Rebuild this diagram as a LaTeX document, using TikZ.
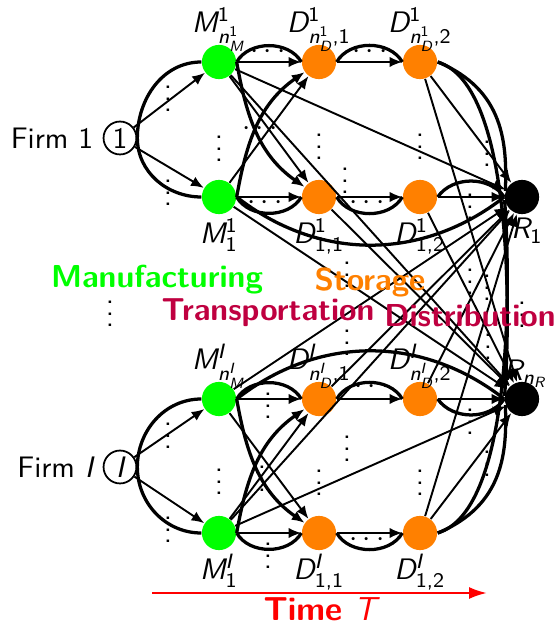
\documentclass[tikz,border=0pt]{standalone}
\usepackage{tikz}
\usetikzlibrary{arrows.meta}
\renewcommand{\familydefault}{\sfdefault}
\SetSymbolFont{operators}{normal}{TU}{lmss}{m}{n}
\SetSymbolFont{letters}{normal}{TU}{lmss}{m}{it}
\AtBeginDocument{\mathcode`\,="602C}
\colorlet{manuColor}{green}
\colorlet{storColor}{orange}
\colorlet{tranColor}{purple}
\colorlet{timeColor}{red}

\begin{document}
\begin{tikzpicture}[x=1.185cm,y=1.185cm,
mVertex/.style={shape=circle,fill=manuColor,minimum size=4.05mm,inner sep=0},
dVertex/.style={shape=circle,fill=storColor,minimum size=4.05mm,inner sep=0},
rVertex/.style={shape=circle,fill=black,minimum size=4.05mm,inner sep=0},
firmVertex/.style={shape=circle,draw,semithick,minimum size=3.9mm,inner sep=0},
myarrow/.style={-{Latex[length=4.3pt,width=3.5pt]},line width=0.65pt},
myarc/.style={line width=1.1pt},
arcArrow/.style={myarc,-{Latex[length=4.3pt,width=3.5pt]}},
phase/.style={font=\fontsize{10.7}{13}\selectfont\bfseries},
every label/.style={inner sep=1pt},
dnLabel/.style={label distance=-1pt}
]
\useasboundingbox (0,0) rectangle (5.58,6.25);
% firm 1
\node[firmVertex,label={[inner sep=3pt]left:Firm 1}] (Fa) at (1.20,4.87) {1};
\node[mVertex,label={[yshift=-1.3mm]above:$M^1_{n^1_M}$}] (Ma-n) at (2.19,5.63) {};
\node[mVertex,dnLabel,label={below:$M^1_1$}] (Ma-1) at (2.19,4.28) {};
\node[dVertex,label={[yshift=-1.3mm]above:$D^1_{n^1_D,1}$}] (Da-n1) at (3.19,5.63) {};
\node[dVertex,label={[yshift=-1.3mm]above:$D^1_{n^1_D,2}$}] (Da-n2) at (4.20,5.63) {};
\node[dVertex,dnLabel,label={below:$D^1_{1,1}$}] (Da-11) at (3.19,4.28) {};
\node[dVertex,dnLabel,label={below:$D^1_{1,2}$}] (Da-12) at (4.20,4.28) {};
% firm I
\node[firmVertex,label={[inner sep=3pt]left:Firm $I$}] (Fb) at (1.20,1.58) {$I$};
\node[mVertex,label={[yshift=-1.3mm]above:$M^I_{n^I_M}$}] (Mb-n) at (2.19,2.26) {};
\node[mVertex,dnLabel,label={below:$M^I_1$}] (Mb-1) at (2.19,0.92) {};
\node[dVertex,label={[yshift=-1.3mm]above:$D^I_{n^I_D,1}$}] (Db-n1) at (3.19,2.26) {};
\node[dVertex,label={[yshift=-1.3mm]above:$D^I_{n^I_D,2}$}] (Db-n2) at (4.20,2.26) {};
\node[dVertex,dnLabel,label={below:$D^I_{1,1}$}] (Db-11) at (3.19,0.92) {};
\node[dVertex,dnLabel,label={below:$D^I_{1,2}$}] (Db-12) at (4.20,0.92) {};
% retailers
\node[rVertex,label={[xshift=0.6mm]below:$R_1$}] (R1) at (5.22,4.28) {};
\node[rVertex,label={[xshift=0.4mm,yshift=-1.2mm]above:$R_{n_R}$}] (Rn) at (5.22,2.26) {};

\foreach \f in {a,b}{
  \draw[myarrow] (F\f) -- (M\f-n);
  \draw[myarrow] (F\f) -- (M\f-1);
  \draw[myarc] (F\f.east) to[out=90,in=180] (M\f-n.west);
  \draw[myarc] (F\f.east) to[out=-90,in=180] (M\f-1.west);
  \draw[myarrow] (M\f-n) -- (D\f-n1);
  \draw[myarrow] (M\f-n) -- (D\f-11);
  \draw[myarrow] (M\f-1) -- (D\f-11);
  \draw[myarrow] (M\f-1) -- (D\f-n1);
  \draw[myarc] (M\f-n.east) to[out=60,in=120] (D\f-n1.west);
  \draw[myarc] (M\f-1.east) to[out=-60,in=-120] (D\f-11.west);
  \draw[arcArrow] (M\f-n.east) to[out=-80,in=145] (D\f-11);
  \draw[arcArrow] (M\f-1.east) to[out=80,in=-145] (D\f-n1);
  \draw[myarrow] (D\f-n1) -- (D\f-n2);
  \draw[myarrow] (D\f-11) -- (D\f-12);
  \draw[myarc] (D\f-n1.east) to[out=60,in=120] (D\f-n2.west);
  \draw[myarc] (D\f-11.east) to[out=-60,in=-120] (D\f-12.west);
}

% distribution, firm 1
\draw[myarrow] (Da-12) -- (R1);
\draw[myarc] (Da-12.east) to[out=55,in=125] (R1.west);
\draw[myarrow] (Da-n2) -- (R1);
\draw[myarrow] (Da-n2) -- (Rn);
\draw[myarrow] (Da-12) -- (Rn);
\draw[myarrow] (Da-11) -- (Rn);
\draw[myarc] (Da-n2.east) .. controls (5.05,5.35) and (5.07,4.8) .. (R1.160);
\draw[myarc] (Da-n2.east) .. controls (5.15,5.4) and (5.1,3.0) .. (Rn.170);
\draw[myarrow] (Ma-n) -- (R1);
\draw[myarrow] (Ma-n) -- (Rn);
\draw[myarrow] (Ma-1) -- (Rn);
\draw[myarc] (Ma-1.east) to[out=-38,in=-142] (R1.west);
% distribution, firm I
\draw[myarrow] (Db-n2) -- (Rn);
\draw[myarc] (Db-n2.east) to[out=-55,in=-125] (Rn.west);
\draw[myarrow] (Db-12) -- (Rn);
\draw[myarrow] (Db-12) -- (R1);
\draw[myarrow] (Db-n2) -- (R1);
\draw[myarrow] (Db-n1) -- (R1);
\draw[myarc] (Db-12.east) .. controls (5.05,1.20) and (5.07,1.75) .. (Rn.200);
\draw[myarc] (Db-12.east) .. controls (5.15,1.15) and (5.1,3.55) .. (R1.190);
\draw[myarrow] (Mb-1) -- (Rn);
\draw[myarrow] (Mb-1) -- (R1);
\draw[myarrow] (Mb-n) -- (R1);
\draw[myarc] (Mb-n.east) to[out=38,in=142] (Rn.west);

% dots, firm 1
\node at (1.68,5.35) {$\vdots$};
\node at (1.68,4.41) {$\vdots$};
\node at (2.19,4.85) {$\vdots$};
\node at (2.60,4.96) {$\cdots$};
\node at (2.68,5.73) {$\cdots$};
\node at (2.65,4.22) {$\cdots$};
\node at (3.70,5.73) {$\cdots$};
\node at (3.67,4.22) {$\cdots$};
\node at (3.19,4.87) {$\vdots$};
\node at (4.20,4.87) {$\vdots$};
\node at (3.45,4.53) {$\vdots$};
\node at (4.87,4.80) {$\vdots$};
\node at (4.70,4.27) {$\vdots$};
% dots, between firms
\node at (1.10,3.20) {$\vdots$};
\node at (3.47,3.59) {$\vdots$};
\node at (3.47,2.91) {$\vdots$};
\node at (4.70,3.52) {$\vdots$};
\node at (4.87,3.46) {$\vdots$};
\node at (5.22,3.19) {$\vdots$};
\node at (4.88,2.87) {$\vdots$};
% dots, firm I
\node at (1.68,1.98) {$\vdots$};
\node at (1.68,1.04) {$\vdots$};
\node at (2.19,1.52) {$\vdots$};
\node at (2.68,2.28) {$\vdots$};
\node at (2.68,0.78) {$\vdots$};
\node at (2.62,1.55) {$\vdots$};
\node at (3.72,2.38) {$\cdots$};
\node at (3.67,0.85) {$\cdots$};
\node at (3.19,1.51) {$\vdots$};
\node at (4.20,1.51) {$\vdots$};
\node at (3.47,1.85) {$\vdots$};
\node at (4.70,2.12) {$\vdots$};
\node at (4.87,1.70) {$\vdots$};

% phases
\node[phase,text=manuColor] (manu) at (1.57,3.45) {Manufacturing};
\node[phase,text=storColor] (stor) at (3.70,3.43) {Storage};
\node[phase,text=tranColor] (tran) at (2.68,3.12) {Transportation};
\node[phase,text=tranColor] (dist) at (4.70,3.09) {Distribution};

% time
\coordinate (t0) at (1.52,0.32);
\coordinate (t1) at (4.87,0.32);
\draw[timeColor,line width=0.8pt,-{Latex[length=6pt,width=4pt]}] (t0) -- (t1);
\node[phase,font=\fontsize{11.2}{13}\selectfont\bfseries,text=timeColor] (time) at (3.20,0.155) {Time $T$};
\end{tikzpicture}
\end{document}
